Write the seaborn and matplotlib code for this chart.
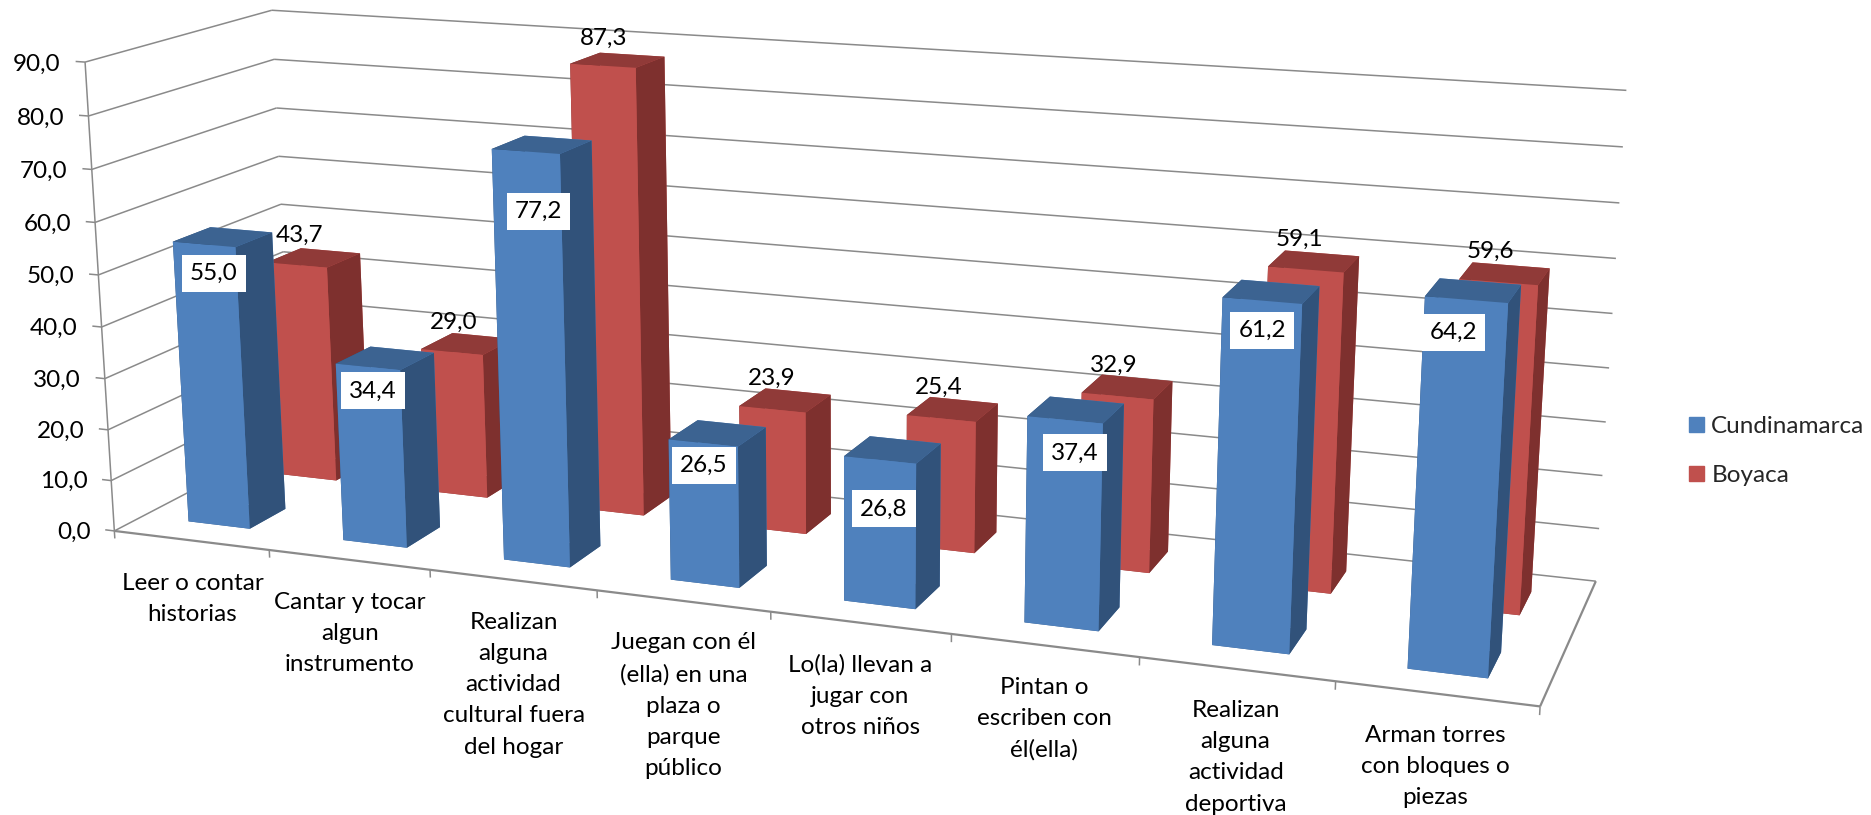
import numpy as np
import matplotlib
matplotlib.use("Agg")
import matplotlib.pyplot as plt
from matplotlib.patches import Patch
from mpl_toolkits.mplot3d.art3d import Line3DCollection
import seaborn as sns

categories = ["Leer o contar\nhistorias", "Cantar y tocar\nalgun\ninstrumento",
              "Realizan\nalguna\nactividad\ncultural fuera\ndel hogar",
              "Juegan con él\n(ella) en una\nplaza o\nparque\npúblico",
              "Lo(la) llevan a\njugar con\notros niños", "Pintan o\nescriben con\nél(ella)",
              "Realizan\nalguna\nactividad\ndeportiva", "Arman torres\ncon bloques o\npiezas"]
cundinamarca = [55.0, 34.4, 77.2, 26.5, 26.8, 37.4, 61.2, 64.2]
boyaca = [43.7, 29.0, 87.3, 23.9, 25.4, 32.9, 59.1, 59.6]
y_ticks = list(range(0, 100, 10))

# pixel nudges of the white data labels relative to the bar's top front edge
label_dx = [10, 5, 13, 1, 4, 10, 0, -13]
label_dy = [29, 24, 60, 22, 49, 33, 30, 33]

sns.set_theme(style="white")
plt.rcParams['font.family'] = ['Lato', 'DejaVu Sans']
FS = 17.5
GRID = "#8a8a8a"

# camera calibration: box corner (category, series depth, value) -> picture pixel
calib = [
 (0,0,0,114.7,531.2),(1,0,0,269,551),(2,0,0,430,570.7),(3,0,0,597,590.7),(4,0,0,770.4,612.7),
 (7,0,0,1334.8,681.5),(8,0,0,1541,705),
 (8,2,0,1596,580),(8,2,10,1599,528.5),(8,2,20,1602,475.5),(8,2,30,1605.6,422),(8,2,40,1609.5,368.8),
 (8,2,50,1613,314),(8,2,60,1616,258.7),(8,2,90,1626,90),
 (0,2,90,272,10.3),(0,2,80,274,59),(0,2,70,275.6,108),(0,2,60,278.8,156),(0,2,50,281.5,204.7),
 (0,0,90,85,62.4),(0,0,70,91.7,169.5),(0,0,50,98.9,274.4),(0,0,30,105,378),(0,0,10,111,479),
]
A = []
for x, y, z, u, v in calib:
    X = [x, y, z / 10, 1]
    u, v = u / 1000, v / 1000
    A.append(X + [0, 0, 0, 0] + [-u * c for c in X])
    A.append([0, 0, 0, 0] + X + [-v * c for c in X])
P = np.linalg.svd(np.array(A, float))[2][-1].reshape(3, 4)
P[:, 2] /= 10
P[:2] *= 1000
if P[2] @ np.array([4, 1, 40, 1]) < 0:
    P = -P

fig = plt.figure(figsize=(18.71, 8.15), dpi=100)
ax = fig.add_axes([0, 0, 1, 1], projection="3d", computed_zorder=False)
ax.apply_aspect = lambda position=None: None
ax.set_axis_off()
fig.canvas.draw()
inv = ax.transData.inverted().get_matrix()
flip = np.array([[1, 0, 0], [0, -1, 815], [0, 0, 1]], float)
S = inv @ flip
Q = S @ P
w0 = P[2] @ np.array([4, 1, 40, 1])
depth = P[2] - np.array([0, 0, 0, 0.5 * w0])
M = np.vstack([Q[0], Q[1], depth, Q[2]])
ax.get_proj = lambda: M


def put(x, y, z, s, dx=0, dy=0, **kw):
    h = P @ np.array([x, y, z, 1.0])
    p = S @ np.array([h[0] / h[2] + dx, h[1] / h[2] + dy, 1.0])
    ax.text2D(p[0], p[1], s, transform=ax.transData, fontsize=FS, color="black", clip_on=False, **kw)


def fmt(v):
    return f"{v:.1f}".replace(".", ",")


thin, thick = [], []
for v in y_ticks:
    thin.append([(0, 0, v), (0, 2, v)])
    thin.append([(0, 2, v), (8, 2, v)])
    thin.append([(-0.06, 0, v), (0, 0, v)])
    put(-0.155, 0, v, fmt(v), dy=4, ha="right", va="center", zorder=40)
thin.append([(0, 0, 0), (0, 0, 90)])
thick.append([(0, 0, 0), (8, 0, 0)])
thick.append([(8, 0, 0), (8, 2, 0)])
for k in range(9):
    thin.append([(k, 0, 0), (k, 0, -1.5)])
ax.add_collection3d(Line3DCollection(thin, colors=GRID, linewidths=1.1, zorder=1), autolim=False)
ax.add_collection3d(Line3DCollection(thick, colors=GRID, linewidths=1.6, zorder=1), autolim=False)

for k, c in enumerate(categories):
    put(k + 0.5, 0, -5.2, c, dy=6 - k * 0.7, ha="center", va="top", linespacing=1.6, zorder=40)

blue = sns.color_palette(["#4F81BD", "#3C6391", "#31527A"])
red = sns.color_palette(["#C0504D", "#903A38", "#7E302E"])


def bar(k, s, h, pal):
    f, t, r = pal
    ax.bar3d(k + 0.3, s + 0.3, 0, 0.4, 0.4, h, color=[t, t, f, f, r, r], shade=False,
             zorder=10 - s * 5 + k * 0.1, linewidth=0)


for k, h in enumerate(boyaca):
    bar(k, 1, h, red)
for k, h in enumerate(cundinamarca):
    bar(k, 0, h, blue)

for k, h in enumerate(cundinamarca):
    put(k + 0.5, 0.3, h, fmt(h), dx=label_dx[k], dy=label_dy[k], ha="center", va="center", zorder=45,
        bbox=dict(boxstyle="square,pad=0.33", fc="white", ec="none"))
for k, h in enumerate(boyaca):
    put(k + 0.5, 1.5, h, fmt(h), dx=-14, dy=-22, ha="center", va="center", zorder=30)

ax.legend(handles=[Patch(color=blue[0], label="Cundinamarca"), Patch(color=red[0], label="Boyaca")],
          loc="upper left", bbox_to_anchor=(1689 / 1871, 1 - 416 / 815), frameon=False, fontsize=FS,
          handlelength=0.62, handleheight=0.62, handletextpad=0.3, labelspacing=1.15, borderpad=0, borderaxespad=0)
fig.savefig("out.png", dpi=100)
